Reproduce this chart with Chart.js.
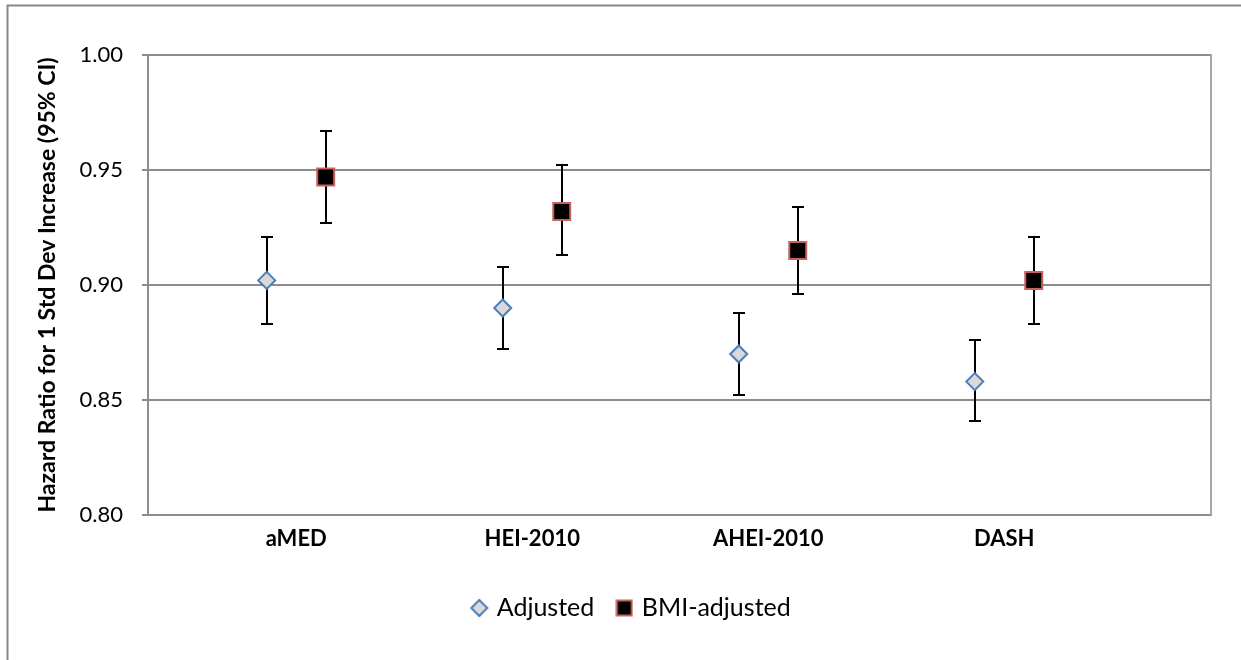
<!DOCTYPE html>
<html>
<head>
<meta charset="utf-8">
<script src="https://cdn.jsdelivr.net/npm/chart.js@4.4.1/dist/chart.umd.min.js"></script>
<style>
  html, body { margin: 0; padding: 0; background: #ffffff; }
  #wrap { width: 1241px; height: 660px; position: relative; }
</style>
</head>
<body>
<div id="wrap"><canvas id="chart" width="1241" height="660"></canvas></div>
<script>
// Diet-quality scores and their hazard ratios (per 1 SD increase) with 95% CI
const categories = ['aMED', 'HEI-2010', 'AHEI-2010', 'DASH'];

const adjusted     = [0.902, 0.890, 0.870, 0.858];
const adjustedLow  = [0.883, 0.872, 0.852, 0.841];
const adjustedHigh = [0.921, 0.908, 0.888, 0.876];

const bmiAdjusted     = [0.947, 0.932, 0.915, 0.902];
const bmiAdjustedLow  = [0.927, 0.913, 0.896, 0.883];
const bmiAdjustedHigh = [0.967, 0.952, 0.934, 0.921];

const yTickValues = [0.80, 0.85, 0.90, 0.95, 1.00];

const seriesNames = ['Adjusted', 'BMI-adjusted'];

// Side-by-side placement of the two series within each category
const SERIES_SHIFT = 0.125;

function buildPoints(values, low, high, shift) {
  return values.map((v, i) => ({ x: i + 1 + shift, y: v, low: low[i], high: high[i] }));
}

const FONT = 'Lato, "Open Sans", "Liberation Sans", sans-serif';
Chart.defaults.font.family = FONT;
Chart.defaults.color = '#000000';

const GRID = '#8c8c8c';

// Small canvases used as legend markers
function diamondMarker() {
  const c = document.createElement('canvas');
  c.width = 20; c.height = 20;
  const g = c.getContext('2d');
  g.beginPath();
  g.moveTo(10, 2); g.lineTo(18, 10); g.lineTo(10, 18); g.lineTo(2, 10); g.closePath();
  g.fillStyle = '#d9d9d9'; g.fill();
  g.lineWidth = 2; g.strokeStyle = '#4a7ebb'; g.stroke();
  return c;
}
function squareMarker() {
  const c = document.createElement('canvas');
  c.width = 18; c.height = 18;
  const g = c.getContext('2d');
  g.fillStyle = '#000000'; g.fillRect(1.5, 1.5, 15, 15);
  g.lineWidth = 2; g.strokeStyle = '#c9605c'; g.strokeRect(1.5, 1.5, 15, 15);
  return c;
}
const legendMarkers = [diamondMarker(), squareMarker()];

// Vertical confidence-interval whiskers with caps, drawn under the markers
const errorBars = {
  id: 'errorBars',
  beforeDatasetsDraw(chart) {
    const { ctx } = chart;
    const xs = chart.scales.x, ys = chart.scales.y;
    ctx.save();
    ctx.strokeStyle = '#000000';
    ctx.lineWidth = 2;
    chart.data.datasets.forEach(ds => {
      ds.data.forEach(p => {
        const px = Math.round(xs.getPixelForValue(p.x));
        const top = Math.round(ys.getPixelForValue(p.high));
        const bot = Math.round(ys.getPixelForValue(p.low));
        ctx.beginPath();
        ctx.moveTo(px, top); ctx.lineTo(px, bot);
        ctx.moveTo(px - 6, top); ctx.lineTo(px + 6, top);
        ctx.moveTo(px - 6, bot); ctx.lineTo(px + 6, bot);
        ctx.stroke();
      });
    });
    ctx.restore();
  }
};

// Outer chart frame and the right edge of the plot area
const frame = {
  id: 'frame',
  beforeDraw(chart) {
    const { ctx } = chart;
    ctx.save();
    ctx.fillStyle = '#ffffff';
    ctx.fillRect(0, 0, chart.width, chart.height);
    ctx.strokeStyle = '#878787';
    ctx.lineWidth = 2;
    ctx.strokeRect(7.5, 5.5, chart.width + 10, chart.height + 10);
    ctx.restore();
  },
  afterDraw(chart) {
    const { ctx, chartArea } = chart;
    ctx.save();
    ctx.strokeStyle = '#a6a6a6';
    ctx.lineWidth = 2;
    ctx.beginPath();
    ctx.moveTo(chartArea.right, chartArea.top - 1);
    ctx.lineTo(chartArea.right, chartArea.bottom);
    ctx.stroke();
    ctx.restore();
  }
};

new Chart(document.getElementById('chart'), {
  type: 'scatter',
  data: {
    datasets: [
      {
        label: seriesNames[0],
        data: buildPoints(adjusted, adjustedLow, adjustedHigh, -SERIES_SHIFT),
        pointStyle: 'rectRot',
        pointRadius: 8.5,
        pointHoverRadius: 8.5,
        backgroundColor: '#d9d9d9',
        borderColor: '#4a7ebb',
        borderWidth: 2,
        showLine: false
      },
      {
        label: seriesNames[1],
        data: buildPoints(bmiAdjusted, bmiAdjustedLow, bmiAdjustedHigh, SERIES_SHIFT),
        pointStyle: 'rect',
        pointRadius: 12,
        pointHoverRadius: 12,
        backgroundColor: '#000000',
        borderColor: '#c9605c',
        borderWidth: 2,
        showLine: false
      }
    ]
  },
  options: {
    responsive: false,
    animation: false,
    devicePixelRatio: 1,
    layout: { padding: { left: 54, right: 30, top: 55, bottom: 29.5 } },
    plugins: {
      tooltip: { enabled: false },
      legend: {
        position: 'bottom',
        labels: {
          usePointStyle: true,
          boxWidth: 10,
          boxHeight: 10,
          padding: 25,
          color: '#000000',
          font: { size: 25 },
          generateLabels(chart) {
            return chart.data.datasets.map((ds, i) => ({
              text: ds.label,
              pointStyle: legendMarkers[i],
              fillStyle: ds.backgroundColor,
              strokeStyle: ds.borderColor,
              lineWidth: 0,
              hidden: false,
              datasetIndex: i,
              fontColor: '#000000'
            }));
          }
        }
      }
    },
    scales: {
      x: {
        type: 'linear',
        min: 0.372,
        max: 4.876,
        afterBuildTicks(scale) { scale.ticks = categories.map((c, i) => ({ value: i + 1 })); },
        afterFit(scale) { scale.height = 55.5; },
        grid: { display: false, drawTicks: false },
        border: { display: true, color: GRID, width: 2 },
        ticks: {
          padding: 11,
          color: '#000000',
          font: { size: 22, weight: 'bold' },
          callback: (v, i) => categories[i]
        }
      },
      y: {
        min: 0.80,
        max: 1.00,
        afterBuildTicks(scale) { scale.ticks = yTickValues.map(v => ({ value: v })); },
        afterFit(scale) { scale.width = 94; },
        grid: { color: GRID, lineWidth: 2, tickLength: 6, drawTicks: true },
        border: { display: true, color: GRID, width: 2 },
        ticks: {
          padding: 19,
          color: '#000000',
          font: { size: 22 },
          callback: v => Number(v).toFixed(2)
        },
        title: {
          display: true,
          text: 'Hazard Ratio for 1 Std Dev Increase (95% CI)',
          color: '#000000',
          font: { size: 23, weight: 'bold' },
          padding: { top: -20, bottom: 0 }
        }
      }
    }
  },
  plugins: [frame, errorBars]
});
</script>
</body>
</html>
